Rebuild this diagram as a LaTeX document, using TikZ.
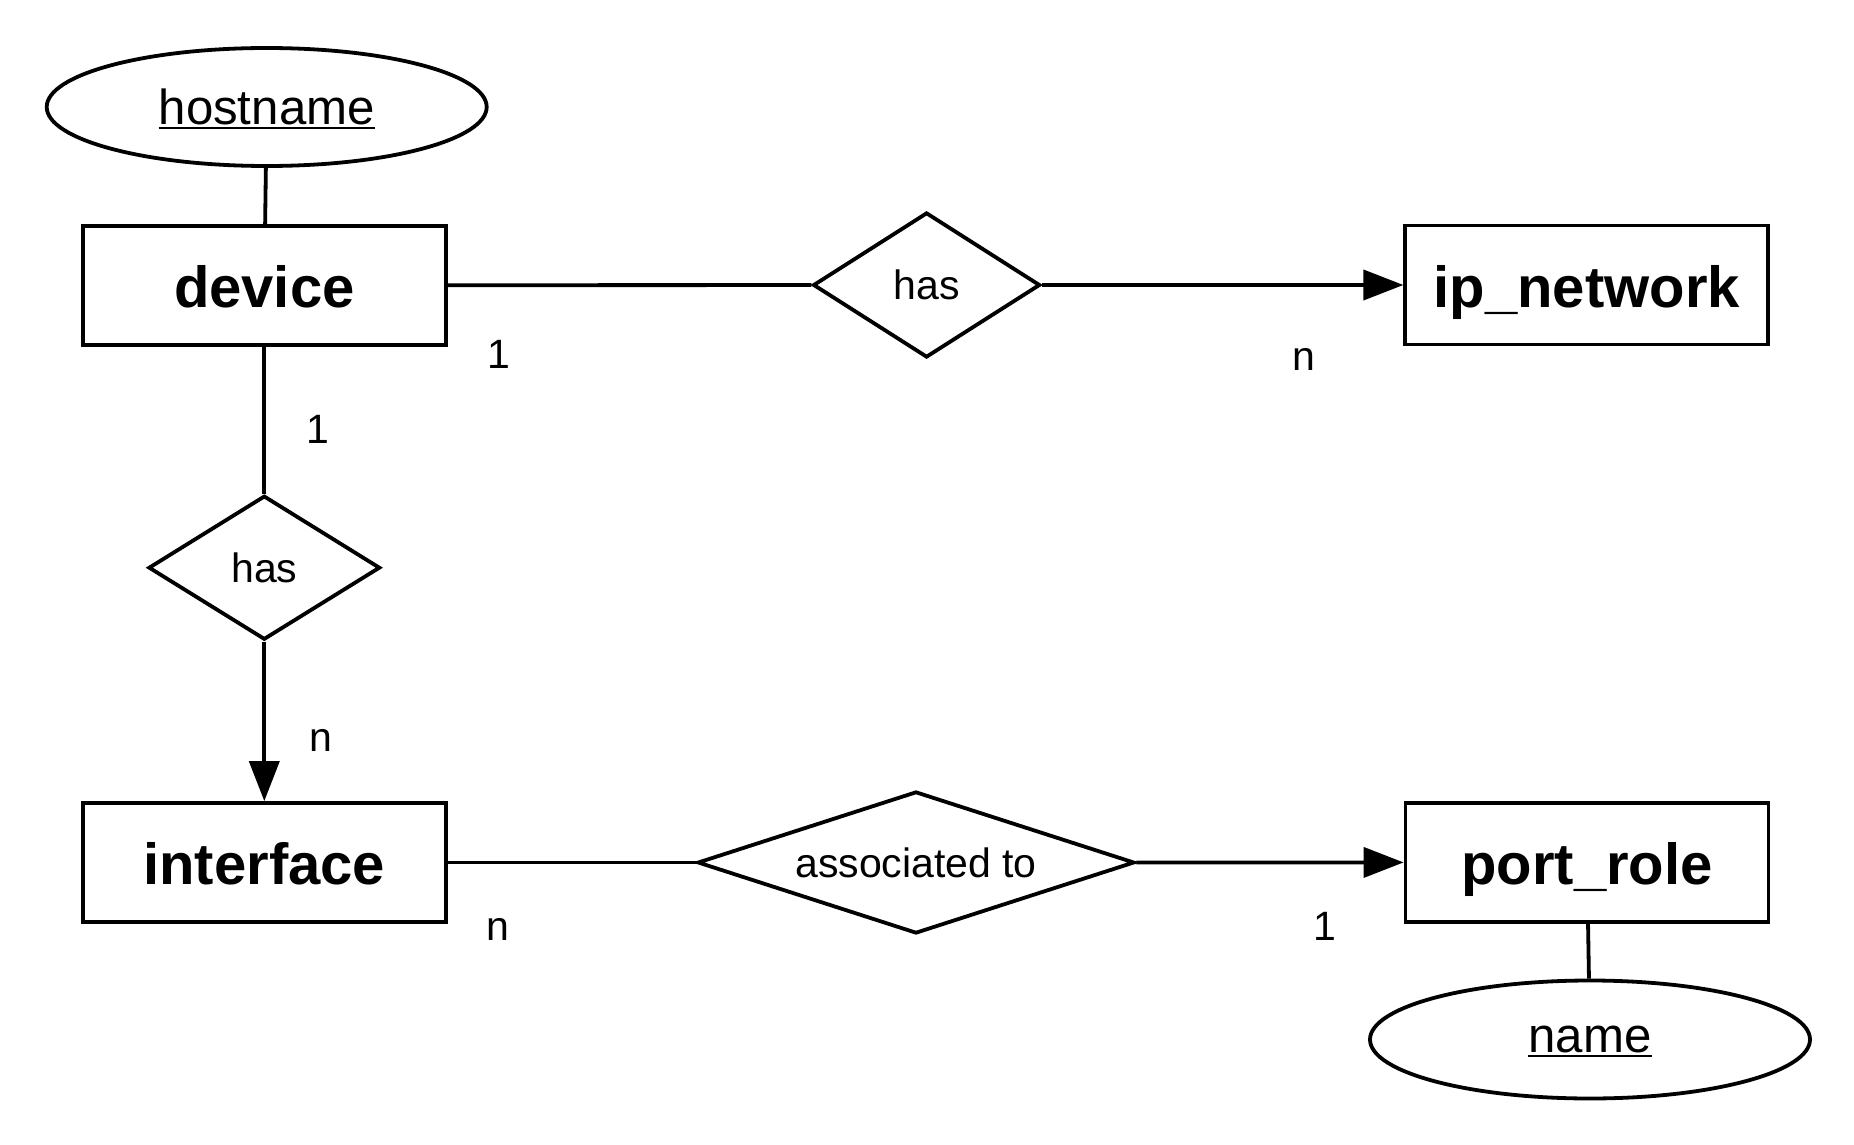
\documentclass[tikz,border=0pt]{standalone}
\usepackage{fontspec}
\setmainfont{Liberation Sans}
\usepackage{tkz-euclide}
\usetikzlibrary{shapes.geometric,arrows.meta}
\newcommand{\keyattr}[1]{\setbox0\hbox{#1}\rlap{\rule[-2.2pt]{\wd0}{1.2pt}}\box0}
\tikzset{
  entity/.style={draw,line width=1.9pt,minimum width=181.5pt,minimum height=59.5pt,inner sep=0pt,text height=22pt,text depth=0pt,font=\fontsize{29pt}{34pt}\selectfont\bfseries},
  attrib/.style={draw,ellipse,line width=1.9pt,minimum width=220pt,minimum height=59pt,inner sep=0pt,text depth=0pt,font=\fontsize{24.6pt}{29pt}\selectfont},
  relation/.style={draw,diamond,line width=1.9pt,inner sep=0pt,aspect=2,font=\fontsize{20.5pt}{24pt}\selectfont},
  card/.style={anchor=base,inner sep=0pt,font=\fontsize{20.5pt}{24pt}\selectfont},
  link/.style={line width=1.9pt},
  tolink/.style={line width=1.9pt,-{Triangle[length=20pt,width=15pt]}}
}
\begin{document}
\begin{tikzpicture}[x=0.5pt,y=-0.5pt]
\useasboundingbox (0,0) rectangle (1854,1145);
\tkzDefPoints{266.7/107/H, 264.3/285.3/D, 926.6/285/R, 1586.8/285/I, 264.3/567.7/S, 264.3/862.5/F, 916/862.5/A, 1587/862.4/P, 1590/1039.5/M}
\node[attrib] (hostname) at (H) {\keyattr{hostname}};
\node[entity] (device) at (D) {device};
\node[relation,minimum width=113.5pt,minimum height=72.5pt] (hasnet) at (R) {has};
\node[entity] (ipnet) at (I) {ip\_network};
\node[relation,minimum width=115.8pt,minimum height=72pt] (hasif) at (S) {has};
\node[entity] (iface) at (F) {interface};
\node[relation,minimum width=218.5pt,minimum height=71pt,aspect=3] (assoc) at (A) {associated to};
\node[entity] (prole) at (P) {port\_role};
\node[attrib] (name) at (M) {\keyattr{name}};
\draw[link] (hostname) -- (device);
\draw[link] (device) -- (hasnet);
\draw[tolink] (hasnet) -- (ipnet);
\draw[link] (device) -- (hasif);
\draw[tolink] (hasif) -- (iface);
\draw[link] (iface) -- (assoc);
\draw[tolink] (assoc) -- (prole);
\draw[link] (prole) -- (name);
\node[card] (devnetone) at (498.5,368) {1};
\node[card] (devnetn) at (1304,370) {n};
\node[card] (devifone) at (318,443) {1};
\node[card] (devifn) at (321,751) {n};
\node[card] (ifrolen) at (498,940) {n};
\node[card] (ifroleone) at (1325,940) {1};
\end{tikzpicture}
\end{document}
